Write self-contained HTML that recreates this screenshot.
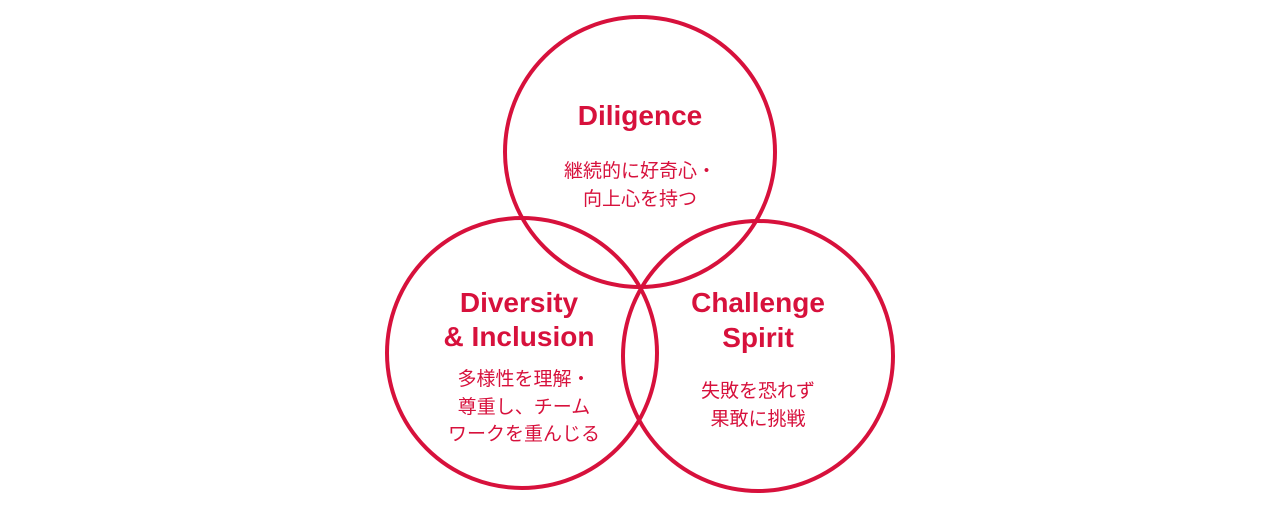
<!DOCTYPE html>
<html><head><meta charset="utf-8"><style>
html,body{margin:0;padding:0;background:#fff;}
body{width:1280px;height:508px;overflow:hidden;position:relative;}
svg{position:absolute;left:0;top:0;}
</style></head><body>
<svg width="1280" height="508" viewBox="0 0 1280 508">
<g fill="none" stroke="#d7113c" stroke-width="4">
<circle cx="640" cy="152" r="135"/>
<circle cx="522" cy="353" r="135"/>
<circle cx="758" cy="356" r="135"/>
</g>
<g fill="#d7113c" text-anchor="middle" font-family="'Liberation Sans','Noto Sans CJK JP',sans-serif">
<g font-size="28" font-weight="bold">
<text x="640" y="125">Diligence</text>
<text x="519" y="312">Diversity</text>
<text x="519" y="346">&amp; Inclusion</text>
<text x="758" y="312">Challenge</text>
<text x="758" y="347">Spirit</text>
</g>
<g font-size="19" font-family="'Noto Sans CJK JP',sans-serif">
<text x="640" y="177">継続的に好奇心・</text>
<text x="640" y="205">向上心を持つ</text>
<text x="524" y="385">多様性を理解・</text>
<text x="524" y="413">尊重し、チーム</text>
<text x="524" y="440">ワークを重んじる</text>
<text x="758" y="397">失敗を恐れず</text>
<text x="758" y="425">果敢に挑戦</text>
</g>
</g>
</svg>
</body></html>
